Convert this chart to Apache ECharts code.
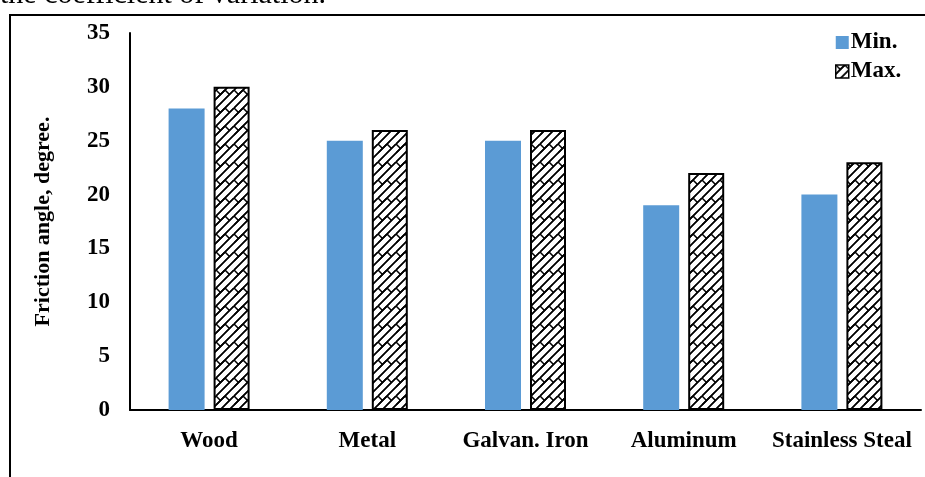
<!DOCTYPE html>
<html>
<head>
<meta charset="utf-8">
<script src="https://cdn.jsdelivr.net/npm/echarts@6/dist/echarts.min.js"></script>
<style>
  html, body { margin: 0; padding: 0; background: #fff; }
  #chart { width: 925px; height: 477px; }
</style>
</head>
<body>
<div id="chart"></div>
<script>
// Friction angle ranges by surface material
const categories = ['Wood', 'Metal', 'Galvan. Iron', 'Aluminum', 'Stainless Steal'];
const minValues = [28, 25, 25, 19, 20];
const maxValues = [30, 26, 26, 22, 23];
const yTicks = { min: 0, max: 35, interval: 5 };

// Brick-like diagonal hatch used for the "Max." bars
function makeHatch() {
  const S = 18, H = S / 2, J = S / 4;
  const c = document.createElement('canvas');
  c.width = S; c.height = S;
  const g = c.getContext('2d');
  g.fillStyle = '#fff';
  g.fillRect(0, 0, S, S);
  g.strokeStyle = '#000';
  g.lineWidth = 1.5;
  g.lineCap = 'butt';
  for (let ox = -S; ox <= S; ox += S) {
    for (let oy = -S; oy <= S; oy += S) {
      // "/" lines at x + y = 0, S/2 (mod S)
      for (const k of [0, H]) {
        g.beginPath();
        g.moveTo(ox + k + S, oy - S);
        g.lineTo(ox - S, oy + k + S);
        g.stroke();
      }
      // short "\" joints, staggered between neighbouring bands
      g.beginPath();
      g.moveTo(ox + 0, oy + 0); g.lineTo(ox + J, oy + J);
      g.moveTo(ox + H, oy + 0); g.lineTo(ox + H + J, oy + J);
      g.stroke();
    }
  }
  return c;
}
const hatch = { image: makeHatch(), repeat: 'repeat' };

const font = '"Liberation Serif", "Times New Roman", serif';
const chart = echarts.init(document.getElementById('chart'), null, { renderer: 'canvas' });

chart.setOption({
  animation: false,
  backgroundColor: '#fff',
  grid: { left: 130, right: 4, top: 33, bottom: 67, containLabel: false },
  legend: {
    orient: 'vertical',
    left: 830,
    top: 26,
    itemWidth: 13,
    itemHeight: 13,
    itemGap: 6,
    textStyle: { fontFamily: font, fontWeight: 'bold', fontSize: 23, color: '#000', padding: [0, 0, 0, -3] },
    data: [
      { name: 'Min.', icon: 'rect' },
      { name: 'Max.', icon: 'rect', itemStyle: { color: hatch, borderColor: '#000', borderWidth: 1.5 } }
    ]
  },
  xAxis: {
    type: 'category',
    data: categories,
    axisLine: { lineStyle: { color: '#000', width: 2 } },
    axisTick: { show: false },
    axisLabel: { interval: 0, hideOverlap: false, fontFamily: font, fontWeight: 'bold', fontSize: 23, color: '#000', margin: 20 }
  },
  yAxis: {
    type: 'value',
    min: yTicks.min,
    max: yTicks.max,
    interval: yTicks.interval,
    name: 'Friction angle, degree.',
    nameLocation: 'middle',
    nameGap: 76,
    nameTextStyle: { fontFamily: font, fontWeight: 'bold', fontSize: 22, color: '#000' },
    axisLine: { show: true, lineStyle: { color: '#000', width: 2 } },
    axisTick: { show: false },
    splitLine: { show: false },
    axisLabel: { fontFamily: font, fontWeight: 'bold', fontSize: 23, color: '#000', margin: 20 }
  },
  series: [
    {
      name: 'Min.',
      type: 'bar',
      data: minValues,
      barWidth: 36,
      barGap: '25%',
      itemStyle: { color: '#5B9BD5' }
    },
    {
      name: 'Max.',
      type: 'bar',
      data: maxValues,
      barWidth: 36,
      barGap: '25%',
      itemStyle: { color: hatch, borderColor: '#000', borderWidth: 2 }
    }
  ],
  graphic: [
    {
      type: 'text',
      left: 0,
      top: -20,
      style: { text: 'the coefficient of variation.', font: '30px ' + font, fill: '#000' }
    },
    { type: 'line', shape: { x1: 10, y1: 15, x2: 925, y2: 15 }, style: { stroke: '#000', lineWidth: 2 } },
    { type: 'line', shape: { x1: 10, y1: 14, x2: 10, y2: 477 }, style: { stroke: '#000', lineWidth: 2 } }
  ]
});
</script>
</body>
</html>
